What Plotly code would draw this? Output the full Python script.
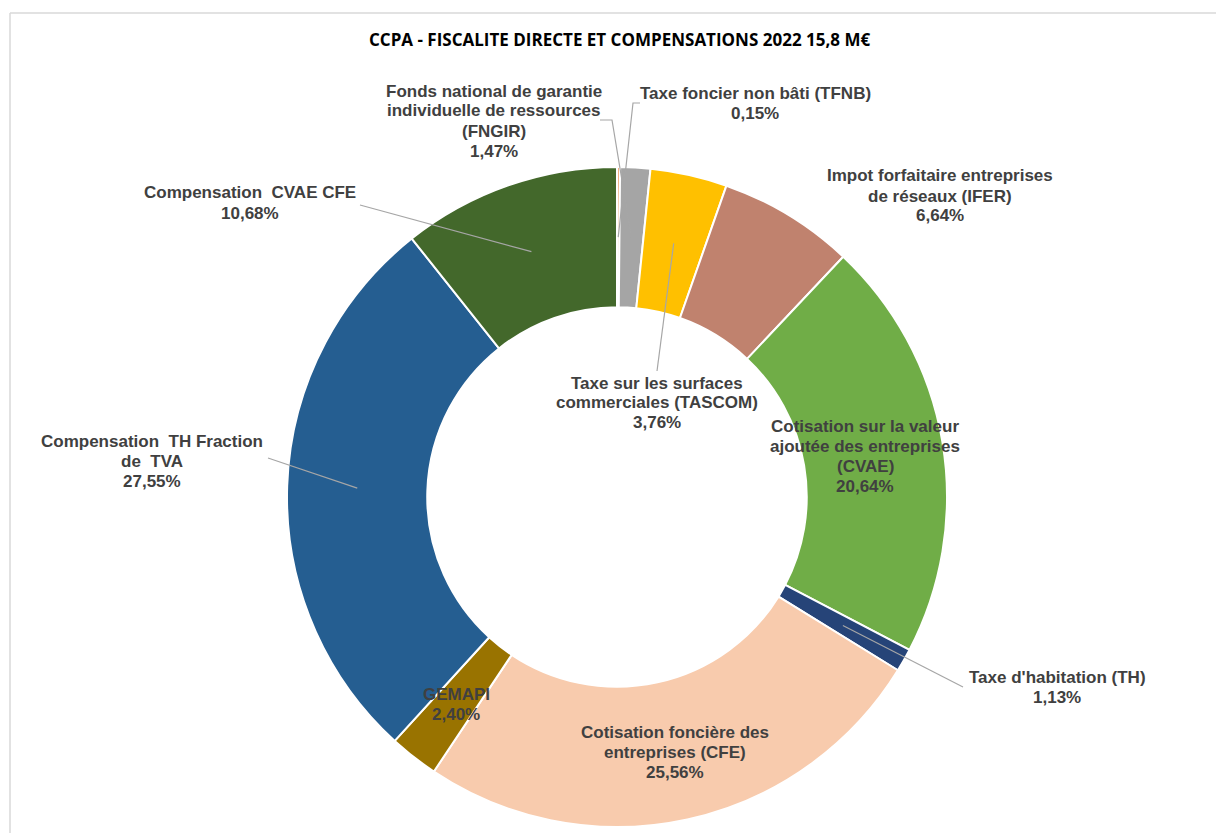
import math
import plotly.graph_objects as go

# Fiscal revenue shares, clockwise from 12 o'clock
categories = [
    "Taxe foncier non bâti (TFNB)",
    "Fonds national de garantie individuelle de ressources (FNGIR)",
    "Taxe sur les surfaces commerciales (TASCOM)",
    "Impot forfaitaire entreprises de réseaux (IFER)",
    "Cotisation sur la valeur ajoutée des entreprises (CVAE)",
    "Taxe d'habitation (TH)",
    "Cotisation foncière des entreprises (CFE)",
    "GEMAPI",
    "Compensation TH Fraction de TVA",
    "Compensation CVAE CFE",
]
shares = [0.15, 1.47, 3.76, 6.64, 20.64, 1.13, 25.56, 2.40, 27.55, 10.68]
label_lines = [
    ["Taxe foncier non bâti (TFNB)"],
    ["Fonds national de garantie", "individuelle de ressources", "(FNGIR)"],
    ["Taxe sur les surfaces", "commerciales (TASCOM)"],
    ["Impot forfaitaire entreprises", "de réseaux (IFER)"],
    ["Cotisation sur la valeur", "ajoutée des entreprises", "(CVAE)"],
    ["Taxe d'habitation (TH)"],
    ["Cotisation foncière des", "entreprises (CFE)"],
    ["GEMAPI"],
    ["Compensation\u00a0 TH Fraction", "de\u00a0 TVA"],
    ["Compensation\u00a0 CVAE CFE"],
]
colors = ["#F4B183", "#A5A5A5", "#FFC000", "#C0826E", "#70AD47",
          "#264478", "#F8CBAD", "#997300", "#255E91", "#43682B"]
title = "CCPA - FISCALITE DIRECTE ET COMPENSATIONS 2022 15,8 M€"

W, H = 1216, 833
CX, CY, R_OUT = 617, 497, 330
HOLE = 0.575
LINE_H = 20

# label placement (pixel centres) and leader-line start points (None = no leader)
label_pos = [(755, 103), (494, 121), (657, 403), (940, 196), (865, 456),
             (1057, 687), (675, 752), (456, 704), (152, 461), (250, 203)]
leader_start = [
    [(640, 103), (633, 103)],
    [(600, 120), (612, 120)],
    [(657, 371)],
    None,
    None,
    [(963, 687)],
    None,
    None,
    [(268, 458)],
    [(360, 205)],
]


def px(x):
    return x / W


def py(y):
    return 1 - y / H


def fmt_pct(v):
    return f"{v:.2f}%".replace(".", ",")


fig = go.Figure()
fig.add_trace(go.Pie(
    labels=categories,
    values=shares,
    sort=False,
    direction="clockwise",
    rotation=0,
    hole=HOLE,
    textinfo="none",
    hoverinfo="label+percent",
    marker=dict(colors=colors, line=dict(color="white", width=2)),
    domain=dict(x=[px(CX - R_OUT), px(CX + R_OUT)],
                y=[py(CY + R_OUT), py(CY - R_OUT)]),
    showlegend=False,
))

# leader lines end at the middle of each slice's ring
total = sum(shares)
r_mid = R_OUT * (1 + HOLE) / 2
shapes = []
cum = 0.0
for i, v in enumerate(shares):
    mid = (cum + v / 2) / total * 2 * math.pi
    cum += v
    ex = CX + r_mid * math.sin(mid)
    ey = CY - r_mid * math.cos(mid)
    pts = leader_start[i]
    if pts:
        path_pts = pts + [(ex, ey)]
        d = "M " + " L ".join(f"{px(x):.5f},{py(y):.5f}" for x, y in path_pts)
        shapes.append(dict(type="path", xref="paper", yref="paper", path=d,
                           line=dict(color="#A6A6A6", width=1.2)))

# chart frame
shapes.append(dict(type="line", xref="paper", yref="paper",
                   x0=px(10), y0=py(13), x1=1.0, y1=py(13),
                   line=dict(color="#D9D9D9", width=1.5)))
shapes.append(dict(type="line", xref="paper", yref="paper",
                   x0=px(10), y0=py(13), x1=px(10), y1=0.0,
                   line=dict(color="#D9D9D9", width=1.5)))

# data labels, one annotation per text line for a tight line pitch
annotations = []
label_font = dict(family="Liberation Sans, Arial", size=17, color="#404040")
for i, (x, y) in enumerate(label_pos):
    lines = label_lines[i] + [fmt_pct(shares[i])]
    n = len(lines)
    for k, line in enumerate(lines):
        ly = y + (k - (n - 1) / 2) * LINE_H
        annotations.append(dict(
            x=px(x), y=py(ly), xref="paper", yref="paper",
            xanchor="center", yanchor="middle", align="center",
            text=f"<b>{line}</b>", showarrow=False, font=label_font,
        ))

annotations.append(dict(
    x=px(620), y=py(40), xref="paper", yref="paper",
    xanchor="center", yanchor="middle",
    text=f"<b>{title}</b>",
    showarrow=False,
    font=dict(family="Open Sans, Liberation Sans", size=17, color="#000000"),
))

fig.update_layout(
    width=W, height=H,
    margin=dict(l=0, r=0, t=0, b=0),
    paper_bgcolor="white",
    plot_bgcolor="white",
    shapes=shapes,
    annotations=annotations,
)

fig.write_html("out.html", config={"displayModeBar": False})
